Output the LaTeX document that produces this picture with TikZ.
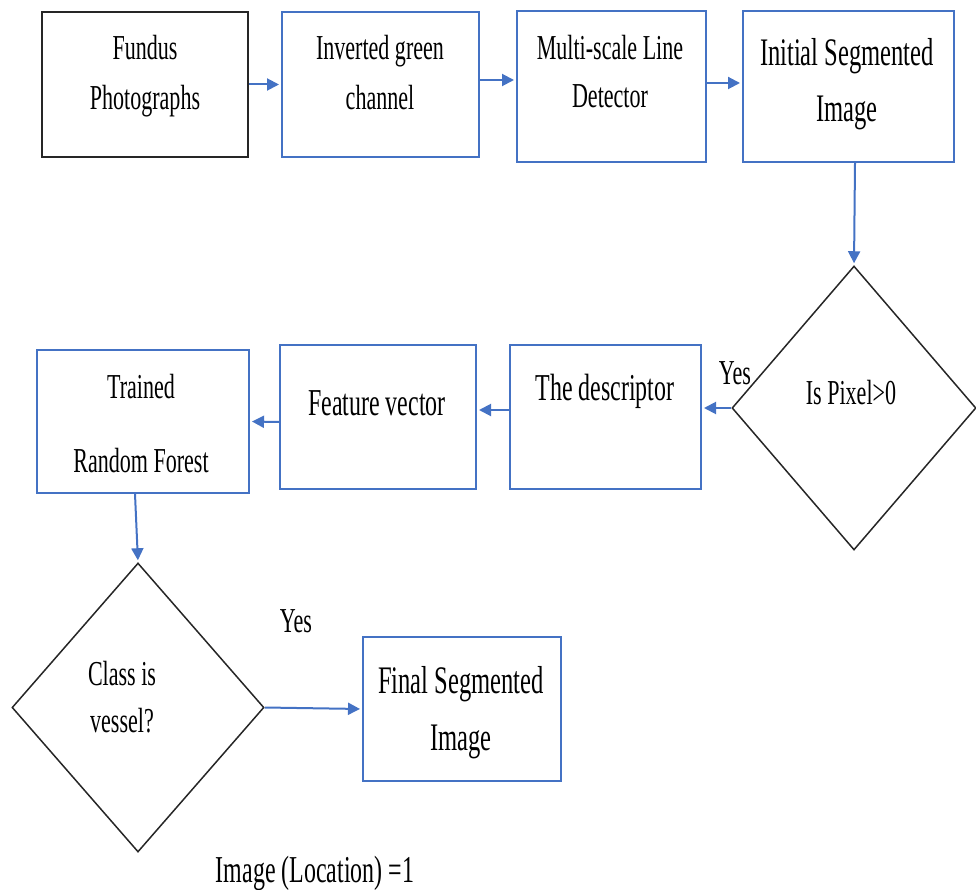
\documentclass[tikz,border=0pt]{standalone}
\usepackage{fontspec}
\setmainfont{Liberation Serif}[FakeStretch=0.63]
\usetikzlibrary{arrows.meta,shapes.geometric}
\definecolor{wblue}{HTML}{4472C4}
\begin{document}
\begin{tikzpicture}[x=1pt,y=-1pt,
  bbox/.style={draw=wblue,line width=2pt,fill=white,inner sep=0pt},
  kbox/.style={draw=black!85,line width=2pt,fill=white,inner sep=0pt},
  dia/.style={draw=black!85,line width=1.5pt,shape=diamond,inner sep=0pt},
  arr/.style={draw=wblue,line width=2pt,-{Triangle[length=12pt,width=12pt]},shorten >=2pt},
  txt/.style={inner sep=0pt,anchor=base,font=\fontsize{35pt}{40pt}\selectfont},
  txtm/.style={inner sep=0pt,anchor=base,font=\fontsize{38pt}{44pt}\selectfont},
  txtl/.style={inner sep=0pt,anchor=base,font=\fontsize{39pt}{46pt}\selectfont}]
\useasboundingbox (0,0) rectangle (976,890);
% boxes
\node[kbox,minimum width=206pt,minimum height=145pt] (fundus) at (145,84.5) {};
\node[bbox,minimum width=197pt,minimum height=145pt] (inv) at (380.5,84.5) {};
\node[bbox,minimum width=189pt,minimum height=151pt] (msld) at (611.5,86.5) {};
\node[bbox,minimum width=211pt,minimum height=151pt] (init) at (848.5,86.5) {};
\node[bbox,minimum width=212pt,minimum height=143pt] (trained) at (143,421.5) {};
\node[bbox,minimum width=196pt,minimum height=144pt] (feat) at (378,417) {};
\node[bbox,minimum width=191pt,minimum height=144pt] (desc) at (605.5,417) {};
\node[bbox,minimum width=198pt,minimum height=144pt] (final) at (462,709) {};
% diamonds
\node[dia,minimum width=244pt,minimum height=284pt] (d1) at (854,408) {};
\node[dia,minimum width=252pt,minimum height=289pt] (d2) at (138,707.5) {};
% texts
\node[txt] (t1a) at (145,60) {Fundus};
\node[txt] (t1b) at (145,110) {Photographs};
\node[txt] (t2a) at (380,60) {Inverted green};
\node[txt] (t2b) at (380,110) {channel};
\node[txt] (t3a) at (610,60) {Multi-scale Line};
\node[txt] (t3b) at (610,108) {Detector};
\node[txtl] (t4a) at (847,66) {Initial Segmented};
\node[txtl] (t4b) at (847,122) {Image};
\node[txt] (t5) at (851,404) {Is Pixel>0};
\node[txt] (y1) at (735,384) {Yes};
\node[txtm] (t6) at (605,400) {The descriptor};
\node[txtm] (t7) at (377,415) {Feature vector};
\node[txt] (t8a) at (141,398) {Trained};
\node[txt] (t8b) at (141,472) {Random Forest};
\node[txt] (t9a) at (122,685) {Class is};
\node[txt] (t9b) at (122,732) {vessel?};
\node[txt] (y2) at (296,632) {Yes};
\node[txtl] (t10a) at (461,693) {Final Segmented};
\node[txtl] (t10b) at (461,750) {Image};
\node[txtm] (t11) at (315,882) {Image (Location) =1};
% arrows
\draw[arr] (fundus.east) -- (inv.west);
\draw[arr] ([yshift=4.5pt]inv.east) -- ([yshift=6.5pt]msld.west);
\draw[arr] ([yshift=3.5pt]msld.east) -- ([yshift=3.5pt]init.west);
\draw[arr] ([xshift=6.5pt]init.south) -- (d1.north);
\draw[arr] (d1.west) -- ([yshift=9pt]desc.east);
\draw[arr] ([yshift=7pt]desc.west) -- ([yshift=7pt]feat.east);
\draw[arr] ([yshift=-5pt]feat.west) -- (trained.east);
\draw[arr] ([xshift=-8pt]trained.south) -- (d2.north);
\draw[arr] (d2.east) -- (final.west);
\end{tikzpicture}
\end{document}
